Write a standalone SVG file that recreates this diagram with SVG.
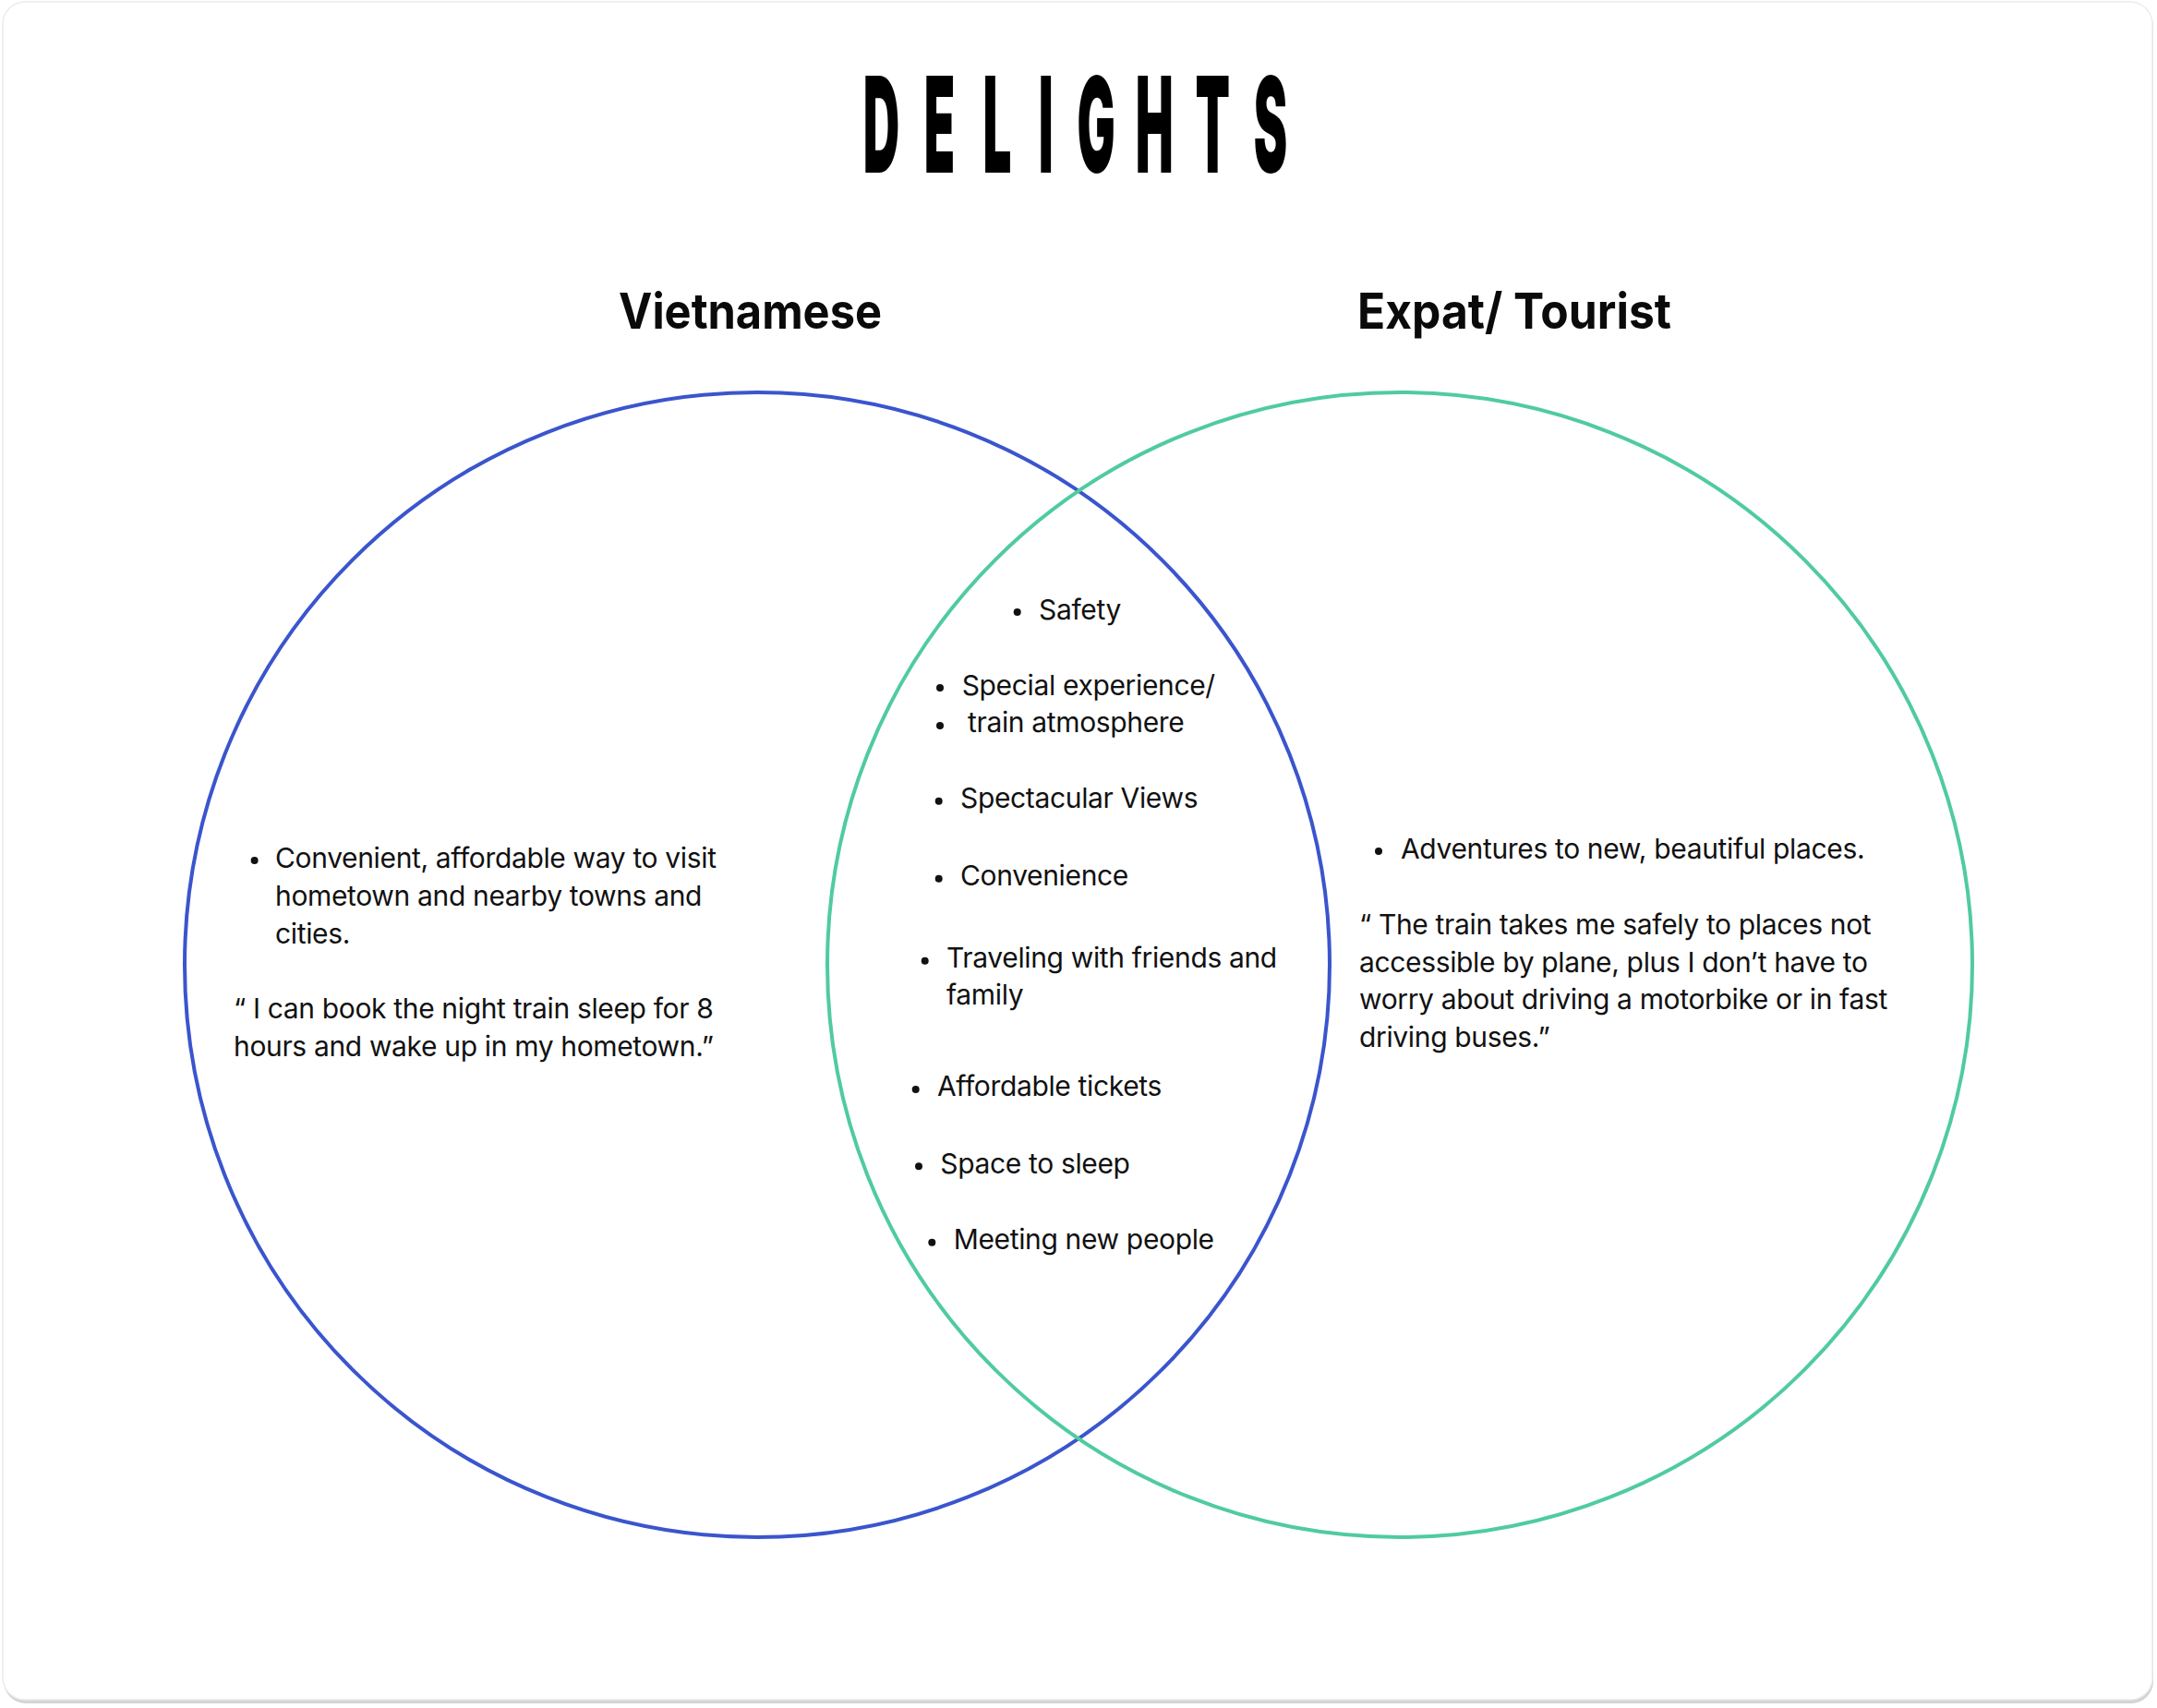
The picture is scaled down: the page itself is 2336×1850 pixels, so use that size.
<svg xmlns="http://www.w3.org/2000/svg" width="2336" height="1850" viewBox="0 0 2336 1850">
  <style>
    .body { font-family: Inter, "Noto Sans", "Liberation Sans", sans-serif; font-size: 30px; letter-spacing: -0.35px; fill: #111111; }
    .head { font-family: Inter, "Noto Sans", "Liberation Sans", sans-serif; font-size: 54px; font-weight: 700; fill: #0a0a0a; }
    .title { font-family: Inter, "Liberation Sans", sans-serif; font-size: 144px; font-weight: 900; fill: #000000; text-anchor: middle; }
    .dot { fill: #111111; }
    .ring { fill: none; stroke-width: 4; }
  </style>
  <rect x="4" y="5" width="2328" height="1840" rx="24" fill="#d4d4d4"/>
  <rect x="3" y="2" width="2328" height="1839" rx="24" fill="#ffffff" stroke="#ececec" stroke-width="1.5"/>

  <g id="title">
    <text class="title" transform="scale(0.38,1)" y="187"><tspan x="2512">D</tspan><tspan x="2678">E</tspan><tspan x="2842">L</tspan><tspan x="2981">I</tspan><tspan x="3124">G</tspan><tspan x="3290">H</tspan><tspan x="3456">T</tspan><tspan x="3621">S</tspan></text>
  </g>

  <g id="connectors">
    <circle id="circle-vietnamese" class="ring" cx="820" cy="1045" r="620" stroke="#3A55CD"/>
    <circle id="circle-expat" class="ring" cx="1516" cy="1045" r="620" stroke="#50CB9F"/>
  </g>

  <g id="heading-vietnamese">
    <text class="head" x="670" y="356" textLength="285" lengthAdjust="spacingAndGlyphs">Vietnamese</text>
  </g>
  <g id="heading-expat">
    <text class="head" x="1470" y="356" textLength="340" lengthAdjust="spacingAndGlyphs">Expat/ Tourist</text>
  </g>

  <g id="node-vietnamese">
    <circle class="dot" cx="275.6" cy="932" r="4"/>
    <text class="body" x="298" y="940">Convenient, affordable way to visit</text>
    <text class="body" x="298" y="981">hometown and nearby towns and</text>
    <text class="body" x="298" y="1022">cities.</text>
    <text class="body" x="253" y="1103">“ I can book the night train sleep for 8</text>
    <text class="body" x="253" y="1144">hours and wake up in my hometown.”</text>
  </g>

  <g id="node-expat">
    <circle class="dot" cx="1493" cy="922" r="4"/>
    <text class="body" x="1517" y="930">Adventures to new, beautiful places.</text>
    <text class="body" x="1472" y="1012">“ The train takes me safely to places not</text>
    <text class="body" x="1472" y="1053">accessible by plane, plus I don’t have to</text>
    <text class="body" x="1472" y="1093">worry about driving a motorbike or in fast</text>
    <text class="body" x="1472" y="1134">driving buses.”</text>
  </g>

  <g id="node-shared">
    <circle class="dot" cx="1101.7" cy="663" r="4"/>
    <text class="body" x="1125" y="671">Safety</text>
    <circle class="dot" cx="1018" cy="745" r="4"/>
    <text class="body" x="1041.7" y="753">Special experience/</text>
    <circle class="dot" cx="1018" cy="786" r="4"/>
    <text class="body" x="1048" y="793">train atmosphere</text>
    <circle class="dot" cx="1016.7" cy="867.7" r="4"/>
    <text class="body" x="1040" y="875">Spectacular Views</text>
    <circle class="dot" cx="1016.7" cy="951.7" r="4"/>
    <text class="body" x="1040" y="959">Convenience</text>
    <circle class="dot" cx="1001.7" cy="1040.7" r="4"/>
    <text class="body" x="1025" y="1048">Traveling with friends and</text>
    <text class="body" x="1025" y="1088">family</text>
    <circle class="dot" cx="991.7" cy="1180" r="4"/>
    <text class="body" x="1015" y="1187">Affordable tickets</text>
    <circle class="dot" cx="995" cy="1263.3" r="4"/>
    <text class="body" x="1018.3" y="1271">Space to sleep</text>
    <circle class="dot" cx="1009.3" cy="1345.7" r="4"/>
    <text class="body" x="1032.7" y="1353">Meeting new people</text>
  </g>
</svg>
